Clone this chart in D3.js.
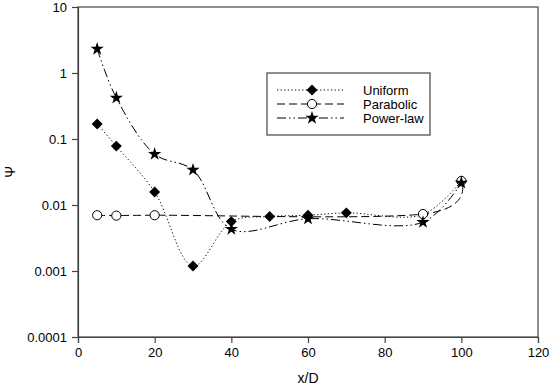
<!DOCTYPE html>
<html>
<head>
<meta charset="utf-8">
<script src="https://cdn.jsdelivr.net/npm/d3@7"></script>
<style>
  body { margin: 0; background: #fff; }
  svg { font-family: "Liberation Sans", Arial, sans-serif; }
</style>
</head>
<body>
<div id="chart"></div>
<script>
// data
const uniformX = [5, 10, 20, 30, 40, 50, 60, 70, 90, 100];
const uniformY = [0.169, 0.078, 0.0157, 0.00119, 0.0056, 0.0067, 0.0070, 0.0076, 0.0072, 0.0231];
const parabolicX = [5, 10, 20, 90, 100];
const parabolicY = [0.0070, 0.0069, 0.0070, 0.0073, 0.0231];
const powerX = [5, 10, 20, 30, 40, 60, 90, 100];
const powerY = [2.31, 0.42, 0.059, 0.034, 0.0043, 0.0062, 0.0055, 0.0216];
const seriesNames = ['Uniform', 'Parabolic', 'Power-law'];
const xTicks = [0, 20, 40, 60, 80, 100, 120];
const yTicks = [0.0001, 0.001, 0.01, 0.1, 1, 10];
const yTickLabels = ['0.0001', '0.001', '0.01', '0.1', '1', '10'];

const width = 550, height = 390;
const margin = { top: 7, right: 12, bottom: 53, left: 78 };
const innerW = width - margin.left - margin.right;
const innerH = height - margin.top - margin.bottom;
const axisColor = '#444';

const svg = d3.select('#chart').append('svg')
  .attr('width', width).attr('height', height);
const g = svg.append('g').attr('transform', `translate(${margin.left},${margin.top})`);

const x = d3.scaleLinear().domain([0, 120]).range([0, innerW]);
const y = d3.scaleLog().domain([0.0001, 10]).range([innerH, 0]);

// frame
g.append('rect').attr('width', innerW).attr('height', innerH)
  .attr('fill', 'none').attr('stroke', axisColor).attr('stroke-width', 1.2);

// axes
const xAxis = g.append('g').attr('transform', `translate(0,${innerH})`)
  .call(d3.axisBottom(x).tickValues(xTicks).tickSize(6).tickPadding(5));
const yAxis = g.append('g')
  .call(d3.axisLeft(y).tickValues(yTicks).tickFormat((d, i) => yTickLabels[i]).tickSize(6).tickPadding(5));
[xAxis, yAxis].forEach(a => {
  a.select('.domain').attr('stroke', axisColor).attr('stroke-width', 1.2);
  a.selectAll('.tick line').attr('stroke', axisColor).attr('stroke-width', 1.2);
  a.selectAll('text').attr('fill', '#000').style('font-size', '13px')
    .style('font-family', '"Liberation Sans", Arial, sans-serif');
});

// labels
svg.append('text').attr('x', margin.left + innerW / 2).attr('y', 383)
  .attr('text-anchor', 'middle').style('font-size', '14px').text('x/D');
svg.append('text').attr('transform', `translate(15,${margin.top + innerH / 2}) rotate(-90)`)
  .attr('text-anchor', 'middle').style('font-size', '14px').text('Ψ');

const series = [
  { name: seriesNames[0], xs: uniformX, ys: uniformY, dash: '1.2,2.4', symbol: 'diamond', alpha: 0.5 },
  { name: seriesNames[1], xs: parabolicX, ys: parabolicY, dash: '8,4', symbol: 'circle', alpha: 0 },
  { name: seriesNames[2], xs: powerX, ys: powerY, dash: '9,3,1.5,3,1.5,3', symbol: 'star', alpha: 0.5 }
];

function drawMarker(sel, type) {
  if (type === 'diamond') {
    sel.append('path').attr('d', d3.symbol(d3.symbolSquare, 60)())
      .attr('transform', 'rotate(45)').attr('fill', '#000');
  } else if (type === 'circle') {
    sel.append('circle').attr('r', 4.6).attr('fill', '#fff')
      .attr('stroke', '#000').attr('stroke-width', 1);
  } else {
    sel.append('path').attr('d', d3.symbol(d3.symbolStar, 55)()).attr('fill', '#000');
  }
}

series.forEach(s => {
  const pts = s.xs.map((v, i) => [v, s.ys[i]]);
  const line = d3.line().x(d => x(d[0])).y(d => y(d[1])).curve(d3.curveCatmullRom.alpha(s.alpha));
  g.append('path').attr('d', line(pts)).attr('fill', 'none')
    .attr('stroke', '#000').attr('stroke-width', 1).attr('stroke-dasharray', s.dash);
  pts.forEach(p => {
    const m = g.append('g').attr('transform', `translate(${x(p[0])},${y(p[1])})`);
    drawMarker(m, s.symbol);
  });
});

// legend
const lg = svg.append('g').attr('transform', 'translate(267,73)');
lg.append('rect').attr('width', 163).attr('height', 62)
  .attr('fill', '#fff').attr('stroke', axisColor).attr('stroke-width', 1.2);
series.forEach((s, i) => {
  const yy = 17 + i * 14;
  lg.append('line').attr('x1', 10).attr('x2', 77).attr('y1', yy).attr('y2', yy)
    .attr('stroke', '#000').attr('stroke-width', 1).attr('stroke-dasharray', s.dash);
  drawMarker(lg.append('g').attr('transform', `translate(45,${yy})`), s.symbol);
  lg.append('text').attr('x', 96).attr('y', yy).attr('dy', '0.35em')
    .style('font-size', '13px').text(s.name);
});
</script>
</body>
</html>
